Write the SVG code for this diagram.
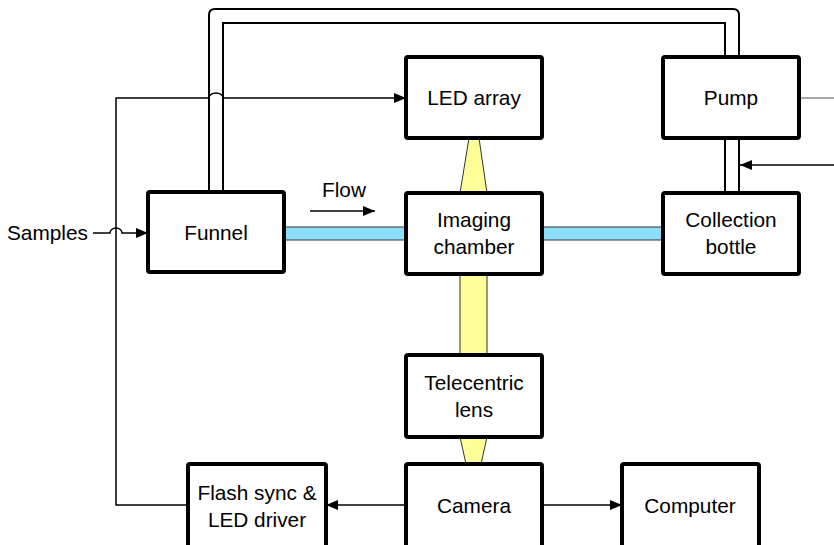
<svg xmlns="http://www.w3.org/2000/svg" width="834" height="545" viewBox="0 0 834 545">
<style>
.box{fill:#fff;stroke:#000;stroke-width:4}
.t{font-family:"Liberation Sans",Arial,sans-serif;font-size:20.8px;fill:#000;text-anchor:middle}
.ln{fill:none;stroke:#000;stroke-width:1.5}
.tube{fill:none;stroke:#000;stroke-width:2}
.blue{fill:#8EDDFB;stroke:#333;stroke-width:1}
.yel{fill:#FFFF99;stroke:#333;stroke-width:1}
</style>
<defs>
<marker id="ah" markerUnits="userSpaceOnUse" markerWidth="12" markerHeight="12" viewBox="0 0 12 12" refX="12" refY="6" orient="auto">
<path d="M0,1 L12,6 L0,11 Z" fill="#000"/>
</marker>
</defs>
<rect width="834" height="545" fill="#fff"/>
<g id="connectors">
<path class="tube" d="M209,192 V15 Q209,9 215,9 H733 Q739,9 739,15 V57"/>
<path class="tube" d="M223,192 V23 H725 V57"/>
<path class="tube" d="M725,138 V193 M739,138 V193"/>
<rect class="blue" x="284" y="227" width="122" height="13"/>
<rect class="blue" x="542" y="227" width="121" height="13"/>
<polygon class="yel" points="469,138 479,138 487,193 460,193"/>
<rect class="yel" x="460" y="274" width="27" height="81"/>
<polygon class="yel" points="460,437 487,437 481,464 466,464"/>
<path class="ln" d="M188,505 H116 V98 H209 A7,5 0 0 1 223,98 H406" marker-end="url(#ah)"/>
<path class="ln" d="M93,233 H110 A6,5 0 0 1 122,233 H148" marker-end="url(#ah)"/>
<path class="ln" d="M310,211 H375" marker-end="url(#ah)"/>
<path class="ln" d="M406,505 H326" marker-end="url(#ah)"/>
<path class="ln" d="M542,505 H622" marker-end="url(#ah)"/>
<path class="ln" d="M834,165 H740" marker-end="url(#ah)"/>
<path d="M799,98 H834" fill="none" stroke="#555" stroke-width="1.2"/>
</g>
<text class="t" x="7" y="240" style="text-anchor:start">Samples</text>
<text class="t" x="344" y="197">Flow</text>
<g id="funnel"><rect class="box" x="148" y="192" width="136" height="80" rx="2"/><text class="t" x="216" y="240">Funnel</text></g>
<g id="led"><rect class="box" x="406" y="57" width="136" height="81" rx="2"/><text class="t" x="474" y="105">LED array</text></g>
<g id="pump"><rect class="box" x="663" y="57" width="136" height="81" rx="2"/><text class="t" x="731" y="105">Pump</text></g>
<g id="imaging"><rect class="box" x="406" y="193" width="136" height="81" rx="2"/><text class="t" x="474" y="227">Imaging</text><text class="t" x="474" y="254">chamber</text></g>
<g id="bottle"><rect class="box" x="663" y="193" width="136" height="81" rx="2"/><text class="t" x="731" y="227">Collection</text><text class="t" x="731" y="254">bottle</text></g>
<g id="lens"><rect class="box" x="406" y="355" width="136" height="82" rx="2"/><text class="t" x="474" y="390">Telecentric</text><text class="t" x="474" y="417">lens</text></g>
<g id="camera"><rect class="box" x="406" y="464" width="136" height="90" rx="2"/><text class="t" x="474" y="513">Camera</text></g>
<g id="computer"><rect class="box" x="622" y="464" width="137" height="90" rx="2"/><text class="t" x="690" y="513">Computer</text></g>
<g id="flash"><rect class="box" x="188" y="464" width="138" height="90" rx="2"/><text class="t" x="257" y="500">Flash sync &amp;</text><text class="t" x="257" y="527">LED driver</text></g>
</svg>
